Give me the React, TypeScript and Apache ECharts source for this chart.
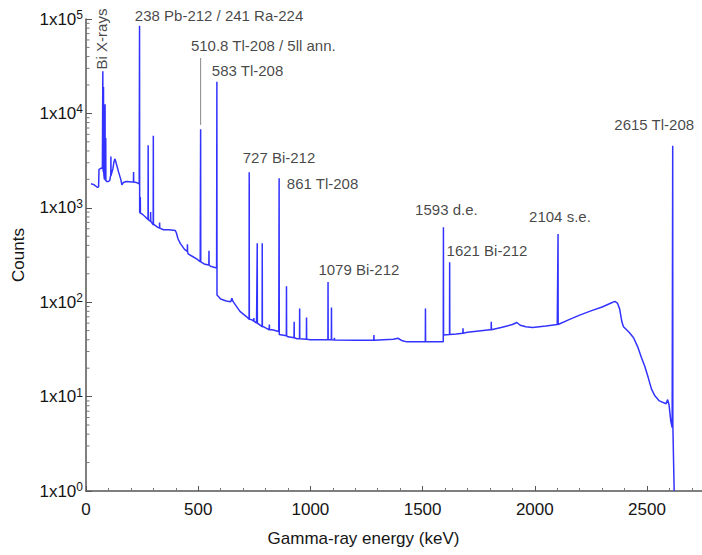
import React, { useEffect, useRef } from "react";
import * as echarts from "echarts";

// Continuum of the spectrum: [energy keV, counts]
const continuum: [number, number][] = [
  [22, 1800], [35, 1760], [50, 1650], [56, 1660], [58, 2550], [70, 2650], [73, 2600],
  [82, 2000], [92, 1900], [100, 1900], [106, 1950], [109, 2150], [114, 2300], [120, 2600],
  [125, 3100], [129, 3300], [134, 3000], [145, 2400], [155, 2000], [160, 1750], [166, 1850],
  [180, 1900], [205, 1880], [225, 1850], [237, 1800],
  [240, 890], [250, 860], [265, 800], [283, 730], [305, 660], [320, 620], [345, 585],
  [370, 585], [398, 575], [403, 540], [410, 470], [420, 420], [440, 360], [455, 325],
  [475, 305], [493, 288], [509, 268], [530, 252], [555, 240], [582, 230],
  [585, 118], [600, 108], [625, 103], [645, 101], [650, 110], [655, 102], [686, 80],
  [716, 70], [740, 65], [760, 60], [790, 55], [830, 51], [859, 49],
  [862, 45.5], [900, 43], [940, 41], [1000, 40], [1200, 39.5], [1370, 40.5], [1390, 41.5],
  [1410, 39], [1430, 38], [1592, 38],
  [1594, 45], [1650, 46], [1700, 48], [1750, 49.5], [1800, 51], [1850, 54], [1900, 58],
  [1920, 61], [1935, 57], [1960, 55], [1990, 54], [2050, 56], [2100, 58], [2150, 65],
  [2200, 73], [2250, 81], [2300, 89], [2340, 98], [2357, 102], [2368, 98], [2378, 85],
  [2388, 62], [2395, 55], [2402, 53], [2420, 48], [2440, 42], [2460, 33], [2475, 26],
  [2490, 21], [2505, 16], [2520, 12], [2535, 10.2], [2555, 9], [2585, 8.4], [2592, 9.3],
  [2598, 8.2], [2606, 5.5], [2612, 4.7], [2621, 1],
];

// Peaks: [energy keV, peak counts, base left, base right]
const peaks: number[][] = [
  [75, 28000, 2600, 2600], [78, 19000, 2400, 2400], [85, 12500, 2000, 2000], [88, 5500, 1950, 1950],
  [111, 3500, 2200, 2200], [212, 2400, 1880, 1880], [238.6, 85000, 1800, 900],
  [242, 1300, 880, 880], [277, 4600, 750, 750], [288, 900, 720, 720], [300, 5800, 660, 660],
  [328, 700, 610, 610], [452, 410, 345, 345], [510.8, 6800, 268, 268], [548, 350, 248, 248],
  [583.2, 21700, 230, 119], [727.3, 2380, 66, 66], [748, 68, 63, 63], [763.1, 420, 60, 60],
  [785.4, 420, 55, 55], [817, 58, 51, 51], [860.6, 2050, 49, 45.5], [893.4, 148, 44, 44],
  [927.6, 62, 42, 42], [952.1, 86, 41, 41], [982.7, 69, 40.5, 40.5], [1078.6, 164, 40, 40],
  [1093.9, 88, 40, 40], [1107, 42, 39.8, 39.8], [1283, 45, 39.5, 39.5], [1512.7, 86, 38, 38],
  [1592.8, 621, 38, 45], [1620.5, 265, 45.5, 45.5], [1680, 53, 47, 47], [1806, 62, 51, 51],
  [2103.5, 527, 58, 58], [2614.5, 4550, 4.7, 5],
];

// Annotations: [label, energy, counts, rotate]
const annotations: [string, number, number, number][] = [
  ["Bi X-rays", 69, 61400, 90],
  ["238 Pb-212 / 241 Ra-224", 593, 110000, 0],
  ["510.8 Tl-208 / 5ll ann.", 790, 51800, 0],
  ["583 Tl-208", 720, 28800, 0],
  ["727 Bi-212", 860, 3370, 0],
  ["861 Tl-208", 1054, 1787, 0],
  ["1079 Bi-212", 1216, 223, 0],
  ["1593 d.e.", 1606, 948, 0],
  ["1621 Bi-212", 1787, 349, 0],
  ["2104 s.e.", 2112, 805, 0],
  ["2615 Tl-208", 2532, 7540, 0],
];

// Leader line for 510.8 annotation
const leader: [number, number][] = [[510.8, 38600], [510.8, 7540]];

const yMinorTicks: number[] = [];
for (let k = 0; k < 5; k++) {
  for (let m = 2; m <= 9; m++) yMinorTicks.push(m * Math.pow(10, k));
}

const FONT = "'Liberation Sans', Arial, Helvetica, sans-serif";
const TXT = "#151515";

function buildSpectrum(): [number, number][] {
  const pts: [number, number][] = continuum.slice();
  for (const [e, top, bl, br] of peaks) {
    pts.push([e - 0.6, bl], [e, top], [e + 0.6, br]);
  }
  pts.sort((a, b) => a[0] - b[0]);
  return pts;
}

export default function App() {
  const ref = useRef<HTMLDivElement>(null);
  useEffect(() => {
    if (!ref.current) return;
    const chart = echarts.init(ref.current, undefined, { renderer: "svg" });
    chart.setOption({
      animation: false,
      textStyle: { fontFamily: FONT },
      grid: { left: 86, right: 0, top: 19, bottom: 64, containLabel: false, outerBoundsMode: "none" },
      xAxis: {
        type: "value",
        min: 0,
        max: 2745,
        interval: 500,
        name: "Gamma-ray energy (keV)",
        nameLocation: "middle",
        nameGap: 39,
        nameTextStyle: { fontSize: 17, color: TXT, fontFamily: FONT, padding: [0, 61, 0, 0] },
        axisLine: { lineStyle: { color: "#555", width: 1.5 } },
        axisTick: { inside: true, length: 5, lineStyle: { color: "#555" } },
        minorTick: { show: true, splitNumber: 5, length: 3, lineStyle: { color: "#777" } },
        axisLabel: {
          fontSize: 17,
          color: TXT,
          margin: 10,
          fontFamily: FONT,
          showMaxLabel: false,
          formatter: (v: number) => String(v),
        },
        splitLine: { show: false },
      },
      yAxis: {
        type: "log",
        logBase: 10,
        min: 1,
        max: 100000,
        name: "Counts",
        nameLocation: "middle",
        nameGap: 59,
        nameTextStyle: { fontSize: 17, color: TXT, fontFamily: FONT },
        axisLine: { show: true, lineStyle: { color: "#555", width: 1.5 } },
        axisTick: { show: true, inside: true, length: 6, lineStyle: { color: "#555" } },
        axisLabel: {
          margin: 3,
          formatter: (v: number) => "{a|1x10}{b|" + Math.round(Math.log10(v)) + "}",
          rich: {
            a: { fontSize: 17, color: TXT, fontFamily: FONT, lineHeight: 20 },
            b: { fontSize: 12, color: TXT, fontFamily: FONT, verticalAlign: "top", lineHeight: 12 },
          },
        },
        splitLine: { show: false },
      },
      series: [
        {
          type: "line",
          data: buildSpectrum(),
          showSymbol: false,
          symbol: "none",
          lineStyle: { color: "#3333ff", width: 1.5 },
          clip: true,
          z: 3,
        },
        {
          type: "line",
          data: leader,
          symbol: "none",
          lineStyle: { color: "#888", width: 1 },
          z: 2,
        },
        {
          type: "custom",
          data: yMinorTicks.map((v) => [0, v]),
          encode: { x: 0, y: 1 },
          clip: false,
          silent: true,
          renderItem: (params: any, api: any) => {
            const p = api.coord([api.value(0), api.value(1)]);
            return {
              type: "line",
              shape: { x1: p[0], y1: p[1], x2: p[0] + 3.5, y2: p[1] },
              style: { stroke: "#777", lineWidth: 1 },
            };
          },
          z: 1,
        },
        {
          type: "scatter",
          symbolSize: 1,
          itemStyle: { color: "rgba(0,0,0,0)" },
          clip: false,
          silent: true,
          data: annotations.map(([t, e, c, r]) => ({
            name: t,
            value: [e, c],
            label: { rotate: r },
          })),
          label: {
            show: true,
            position: "inside",
            formatter: "{b}",
            fontSize: 15,
            color: TXT,
            fontFamily: FONT,
            align: "center",
            verticalAlign: "middle",
          },
          z: 5,
        },
      ],
    });
    return () => chart.dispose();
  }, []);
  return <div ref={ref} style={{ width: 702, height: 555, position: "absolute", left: 0, top: 0 }} />;
}
